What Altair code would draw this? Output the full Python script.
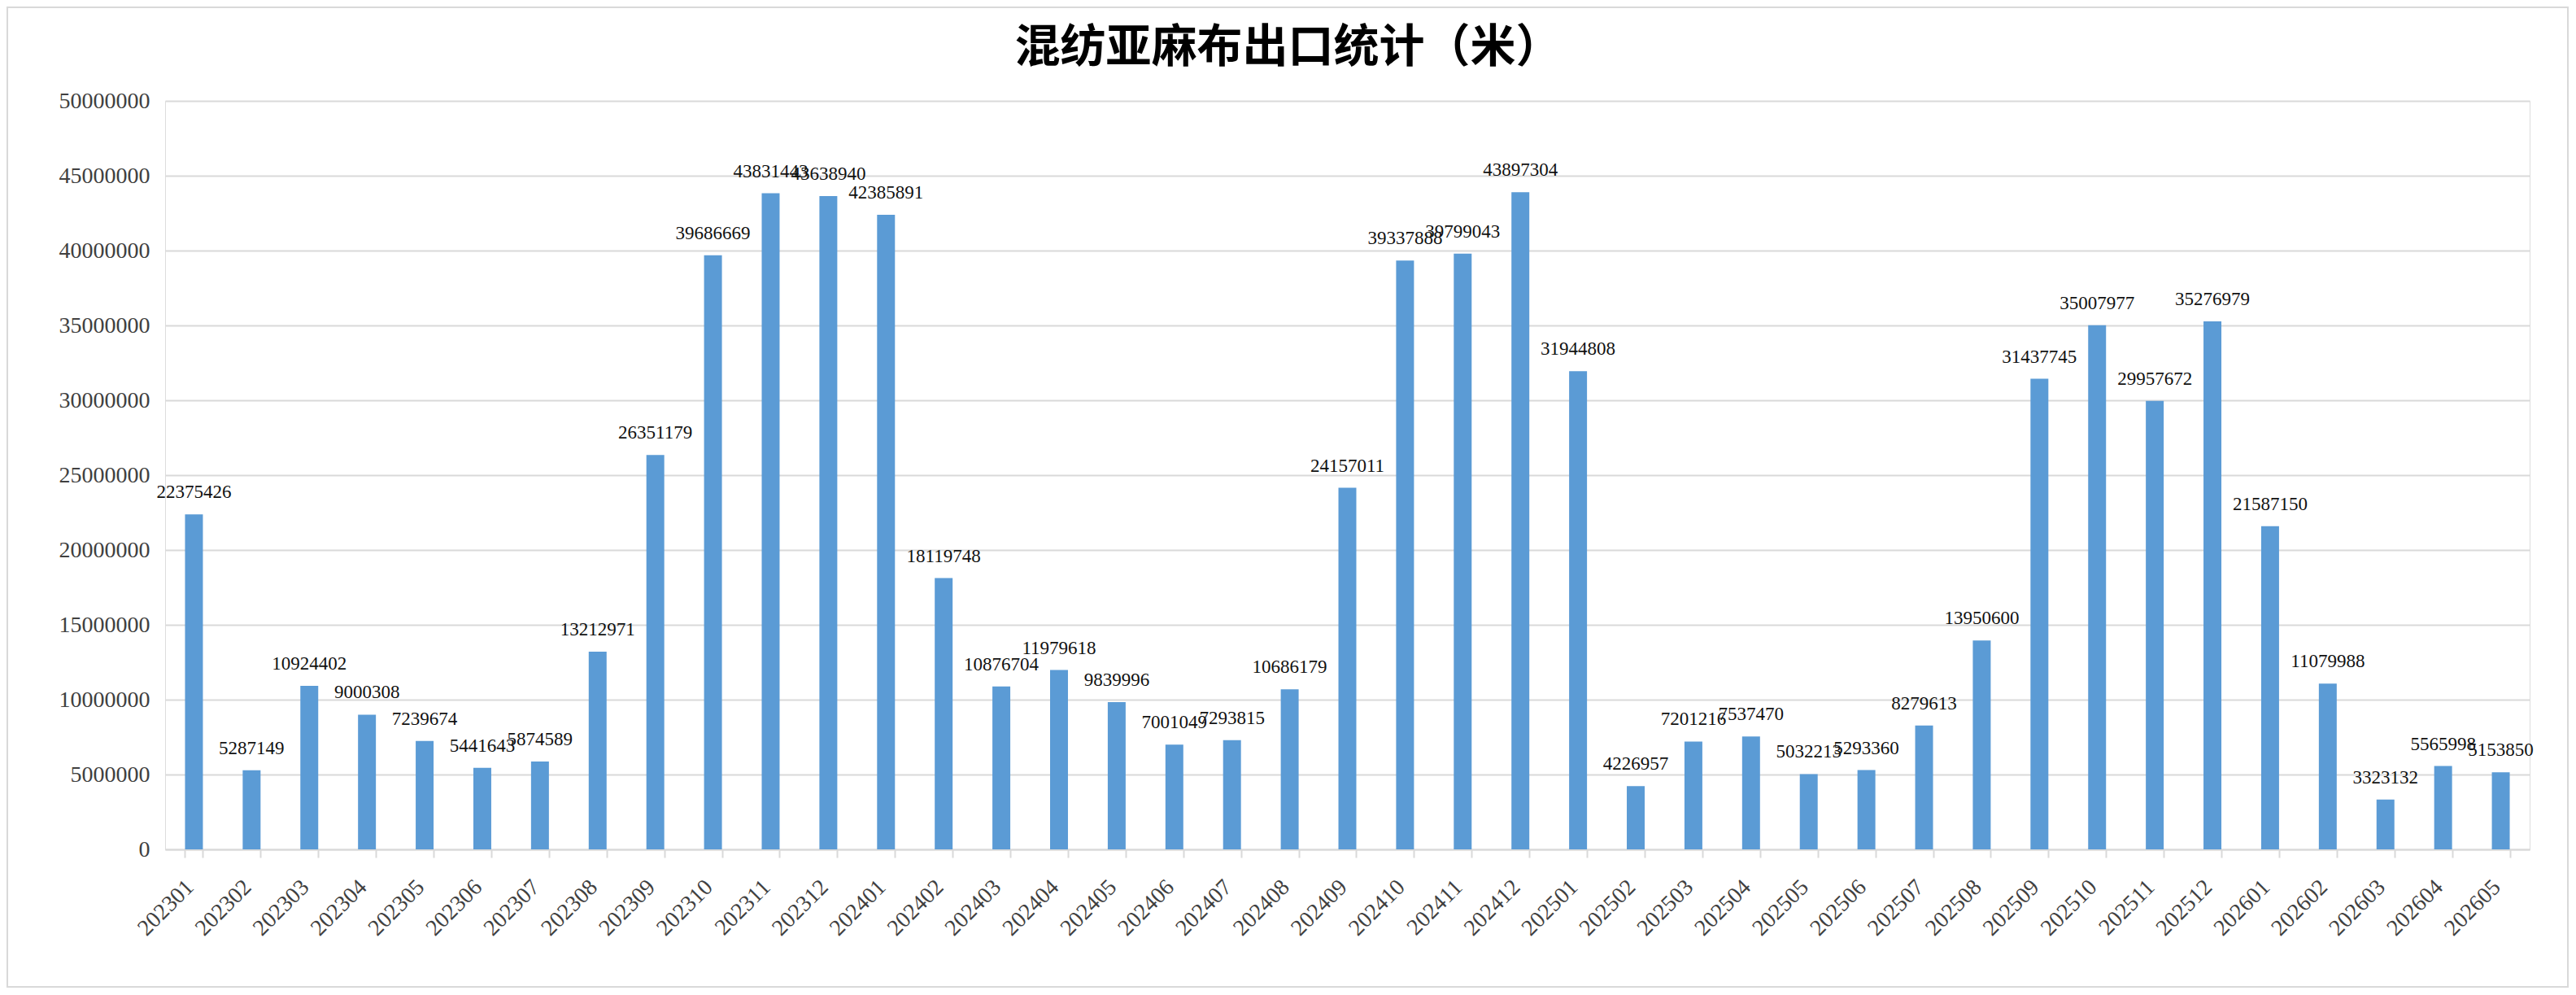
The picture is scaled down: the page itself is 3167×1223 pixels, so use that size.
import altair as alt
import pandas as pd

months = [
    "202301", "202302", "202303", "202304", "202305", "202306", "202307", "202308",
    "202309", "202310", "202311", "202312", "202401", "202402", "202403", "202404",
    "202405", "202406", "202407", "202408", "202409", "202410", "202411", "202412",
    "202501", "202502", "202503", "202504", "202505", "202506", "202507", "202508",
    "202509", "202510", "202511", "202512", "202601", "202602", "202603", "202604",
    "202605",
]
values = [
    22375426, 5287149, 10924402, 9000308, 7239674, 5441643, 5874589, 13212971,
    26351179, 39686669, 43831443, 43638940, 42385891, 18119748, 10876704, 11979618,
    9839996, 7001049, 7293815, 10686179, 24157011, 39337888, 39799043, 43897304,
    31944808, 4226957, 7201216, 7537470, 5032213, 5293360, 8279613, 13950600,
    31437745, 35007977, 29957672, 35276979, 21587150, 11079988, 3323132, 5565998,
    5153850,
]
y_ticks = [0, 5000000, 10000000, 15000000, 20000000, 25000000, 30000000,
           35000000, 40000000, 45000000, 50000000]
title_text = "混纺亚麻布出口统计（米）"

df = pd.DataFrame({"month": months, "value": values})

W, H = 2907, 920
PAD = {"left": 195, "top": 116, "right": 48, "bottom": 170}

x_enc = alt.X(
    "month:N",
    sort=months,
    scale=alt.Scale(paddingInner=0.69, paddingOuter=0.345),
    axis=alt.Axis(
        title=None,
        labelAngle=-45,
        labelAlign="right",
        labelBaseline="middle",
        labelFont="Liberation Serif",
        labelFontSize=28,
        labelColor="#404040",
        labelPadding=32,
        labelOffset=-5,
        domainColor="#D9D9D9",
        domainWidth=2,
        tickColor="#D9D9D9",
        tickWidth=2,
        tickSize=10,
        tickBand="extent",
        grid=False,
    ),
)
y_enc = alt.Y(
    "value:Q",
    scale=alt.Scale(domain=[0, 50000000], nice=False),
    axis=alt.Axis(
        title=None,
        values=y_ticks,
        format="d",
        labelFont="Liberation Serif",
        labelFontSize=28,
        labelColor="#404040",
        labelPadding=19,
        domain=False,
        ticks=False,
        grid=True,
        gridColor="#D9D9D9",
        gridWidth=2,
    ),
)

base = alt.Chart(df)
bars = base.mark_bar(color="#5B9BD5").encode(x=x_enc, y=y_enc)
labels = base.mark_text(
    baseline="alphabetic",
    align="center",
    dy=-20,
    font="Liberation Serif",
    fontSize=23,
    color="#111111",
).encode(x=alt.X("month:N", sort=months), y=alt.Y("value:Q"), text=alt.Text("value:Q", format="d"))

frame = alt.Chart(pd.DataFrame({"f": [0]})).mark_rect(
    fillOpacity=0, stroke="#D9D9D9", strokeWidth=2
).encode(
    x=alt.value(-PAD["left"] + 1),
    x2=alt.value(W + PAD["right"] - 1),
    y=alt.value(-PAD["top"] + 1),
    y2=alt.value(H + PAD["bottom"] - 1),
)

chart = alt.layer(frame, bars, labels).properties(
    width=W,
    height=H,
    padding=PAD,
    autosize=alt.AutoSizeParams(type="none"),
    title=alt.TitleParams(
        text=title_text,
        font="Noto Sans CJK SC",
        fontSize=56,
        fontWeight="bold",
        color="#000000",
        anchor="middle",
        frame="group",
        dx=-73,
        offset=-80,
    ),
).configure_view(strokeWidth=0).configure(background="white")

chart.save("out.html", embed_options={"renderer": "svg", "actions": False})
